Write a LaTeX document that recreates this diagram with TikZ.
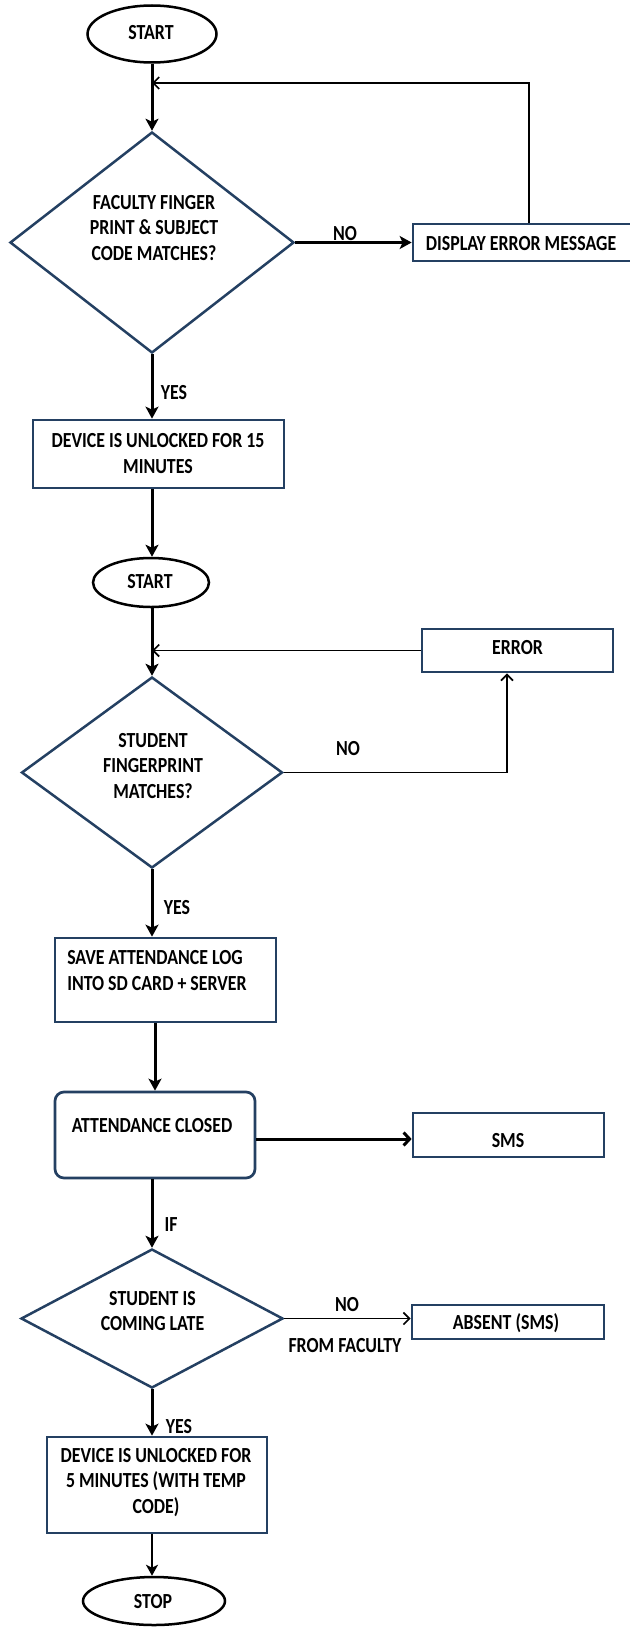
\documentclass[tikz,border=0pt]{standalone}
\usepackage{fontspec}
\setmainfont{Carlito}[FakeStretch=0.83]
\usetikzlibrary{shapes.geometric,arrows.meta}
\definecolor{navy}{RGB}{36,64,98}
\begin{document}
\begin{tikzpicture}[x=1pt,y=-1pt,
  txt/.style={font=\bfseries\fontsize{21.5}{25.5}\selectfont, inner sep=0pt, align=center, text=black},
  term/.style={ellipse, draw=black, line width=2.5pt, inner sep=0pt},
  procbox/.style={rectangle, draw=navy, line width=2.7pt, inner sep=0pt},
  decide/.style={diamond, draw=navy, line width=2.5pt, inner sep=0pt},
  thickarrow/.style={draw=black, line width=3pt, -{Stealth[length=12pt,width=13pt,inset=3pt]}},
  medarrow/.style={draw=black, line width=2.5pt, -{Stealth[length=11pt,width=12pt,inset=3pt]}},
  barbarrow/.style={draw=black, line width=3pt, -{Straight Barb[length=6pt,width=13pt]}},
  thinarrow/.style={draw=black, line width=1.7pt, -{Straight Barb[length=6pt,width=12pt]}},
]
\useasboundingbox[fill=white] (0,0) rectangle (629,1627);

% shapes
\node[term, minimum width=129pt, minimum height=57pt] (s1) at (152,34) {};
\node[decide, minimum width=284pt, minimum height=221pt] (d1) at (152,242.5) {};
\node[procbox, minimum width=227pt, minimum height=37pt] (b1) at (526.5,242.5) {};
\node[procbox, minimum width=251pt, minimum height=68pt] (b2) at (158.5,454) {};
\node[term, minimum width=116pt, minimum height=49pt] (s2) at (151,582.5) {};
\node[procbox, minimum width=191pt, minimum height=43pt] (err) at (517.5,650.5) {};
\node[decide, minimum width=261pt, minimum height=191pt] (d2) at (152,772.5) {};
\node[procbox, minimum width=221pt, minimum height=84pt] (b3) at (165.5,980) {};
\node[procbox, rounded corners=9pt, minimum width=200pt, minimum height=86pt] (b4) at (155,1135) {};
\node[procbox, minimum width=191pt, minimum height=44pt] (sms) at (508.5,1135) {};
\node[decide, minimum width=262pt, minimum height=139pt] (d3) at (152,1318.5) {};
\node[procbox, minimum width=192pt, minimum height=34pt] (abs) at (508,1322) {};
\node[procbox, minimum width=220pt, minimum height=96pt] (b5) at (157,1485) {};
\node[term, minimum width=142pt, minimum height=48pt] (stop) at (154,1601) {};

% texts
\node[txt] (s1t) at (151,33) {START};
\node[txt] (d1t) at (154,228) {FACULTY FINGER\\PRINT \& SUBJECT\\CODE MATCHES?};
\node[txt] (b1t) at (521,244) {DISPLAY ERROR MESSAGE};
\node[txt] (b2t) at (158,453.5) {DEVICE IS UNLOCKED FOR 15\\MINUTES};
\node[txt] (s2t) at (150,581.5) {START};
\node[txt] (errt) at (517.5,648) {ERROR};
\node[txt] (d2t) at (153,766) {STUDENT\\FINGERPRINT\\MATCHES?};
\node[txt, align=left] (b3t) at (157,970.5) {SAVE ATTENDANCE LOG\\INTO SD CARD + SERVER};
\node[txt] (b4t) at (152,1126) {ATTENDANCE CLOSED};
\node[txt] (smst) at (508,1141) {SMS};
\node[txt] (d3t) at (152.5,1311) {STUDENT IS\\COMING LATE};
\node[txt] (abst) at (506,1323) {ABSENT (SMS)};
\node[txt] (b5t) at (156,1482.5) {DEVICE IS UNLOCKED FOR\\5 MINUTES (WITH TEMP\\CODE)};
\node[txt] (stopt) at (153,1601.5) {STOP};

% labels
\node[txt] (no1) at (345,234) {NO};
\node[txt] (yes1) at (174,393) {YES};
\node[txt] (no2) at (348,749) {NO};
\node[txt] (yes2) at (177,908) {YES};
\node[txt] (if1) at (171,1225) {IF};
\node[txt] (no3) at (347,1305) {NO};
\node[txt] (fac) at (345,1346) {FROM FACULTY};
\node[txt] (yes3) at (179,1427) {YES};

% connectors
\coordinate (l1) at (529,83);
\coordinate (n2) at (507,773);
\coordinate (c34) at (155,0);

\draw[thickarrow] (s1.south) -- (d1.north);
\draw[thinarrow] (b1.north -| l1) -- (l1) -- (l1 -| s1.south);
\draw[thickarrow] (d1.east) -- (d1.east -| b1.west);
\draw[thickarrow] (d1.south) -- (d1.south |- b2.north);
\draw[thickarrow] (d1.south |- b2.south) -- (d1.south |- s2.north);
\draw[thickarrow] (s2.south -| d2.north) -- (d2.north);
\draw[thinarrow] (err.west) -- (err.west -| d2.north);
\draw[thinarrow] (d2.east) -- (d2.east -| n2) -- (err.south -| n2);
\draw[thickarrow] (d2.south) -- (d2.south |- b3.north);
\draw[thickarrow] (c34 |- b3.south) -- (c34 |- b4.north);
\draw[barbarrow] ([yshift=-4pt]b4.east) -- ([yshift=-4pt]b4.east -| sms.west);
\draw[thickarrow] (d3.north |- b4.south) -- (d3.north);
\draw[thinarrow] (d3.east) -- (d3.east -| abs.west);
\draw[thickarrow] (d3.south) -- (d3.south |- b5.north);
\draw[medarrow] (d3.south |- b5.south) -- (d3.south |- stop.north);
\end{tikzpicture}
\end{document}
